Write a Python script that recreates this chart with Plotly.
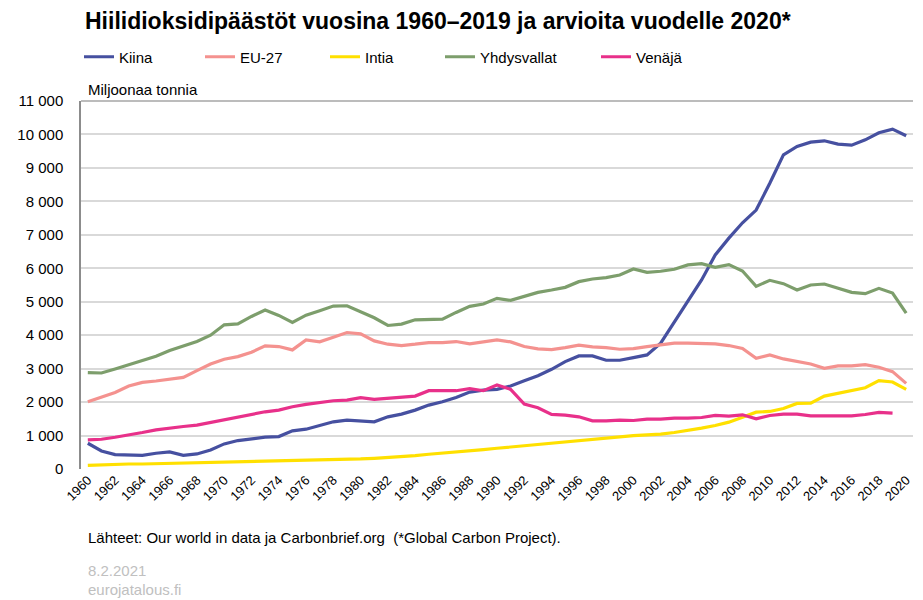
import plotly.graph_objects as go

years = list(range(1960, 2021))

kiina = [770, 540, 430, 410, 410, 470, 510, 410, 450, 570,
         750, 850, 900, 950, 970, 1140, 1190, 1300, 1410, 1460,
         1440, 1410, 1560, 1640, 1760, 1910, 2010, 2140, 2300, 2360,
         2380, 2480, 2640, 2790, 2980, 3210, 3380, 3380, 3250, 3250,
         3330, 3410, 3760, 4390, 5020, 5650, 6400, 6900, 7360, 7740,
         8540, 9390, 9640, 9770, 9810, 9710, 9680, 9840, 10050, 10160,
         9960]

eu27 = [2010, 2160, 2290, 2480, 2590, 2630, 2680, 2740, 2940, 3140,
        3280, 3360, 3490, 3680, 3660, 3560, 3860, 3800, 3940, 4080,
        4040, 3830, 3730, 3690, 3730, 3780, 3780, 3810, 3740, 3810,
        3860, 3800, 3660, 3590, 3570, 3630, 3700, 3650, 3630, 3580,
        3600, 3660, 3700, 3760, 3760, 3740, 3740, 3690, 3600, 3310,
        3410, 3290, 3220, 3140, 3010, 3080, 3080, 3120, 3040, 2910,
        2560]

intia = [110, 130, 140, 150, 150, 160, 165, 170, 180, 185,
         190, 200, 210, 220, 225, 240, 250, 260, 270, 290,
         300, 320, 340, 370, 400, 440, 470, 500, 540, 580,
         620, 660, 700, 730, 760, 810, 860, 900, 930, 960,
         1000, 1020, 1040, 1090, 1150, 1220, 1300, 1400, 1550, 1700,
         1720, 1810, 1960, 1970, 2180, 2270, 2350, 2430, 2640, 2600,
         2380]

yhdysvallat = [2880, 2870, 2990, 3110, 3230, 3370, 3540, 3670, 3810, 4000,
               4310, 4340, 4560, 4750, 4590, 4380, 4600, 4730, 4870, 4880,
               4700, 4520, 4290, 4330, 4460, 4470, 4480, 4680, 4860, 4930,
               5100, 5040, 5170, 5280, 5350, 5430, 5600, 5680, 5720, 5800,
               5980, 5880, 5910, 5970, 6100, 6140, 6030, 6110, 5920, 5460,
               5640, 5540, 5350, 5500, 5530, 5400, 5280, 5240, 5400, 5260,
               4660]

venaja = [870, 890, 950, 1010, 1090, 1170, 1230, 1270, 1310, 1390,
          1470, 1560, 1640, 1710, 1760, 1860, 1930, 1980, 2040, 2060,
          2130, 2080, 2110, 2160, 2180, 2340, 2340, 2340, 2400, 2340,
          2510, 2380, 1940, 1830, 1630, 1610, 1560, 1440, 1440, 1460,
          1450, 1490, 1490, 1520, 1520, 1540, 1600, 1580, 1620, 1500,
          1600, 1640, 1640, 1590, 1590, 1590, 1590, 1630, 1690, 1670,
          None]

series = [
    ("Kiina", kiina, "#4650a0"),
    ("EU-27", eu27, "#f4928f"),
    ("Intia", intia, "#ffe000"),
    ("Yhdysvallat", yhdysvallat, "#7d9e6c"),
    ("Venäjä", venaja, "#e8308a"),
]

# The page adds an 8 px body margin, so the figure is 8 px smaller and
# every page-pixel target below is shifted by OFF.
OFF = 8
W, H = 923 - OFF, 600 - OFF
FONT = "Liberation Sans, Arial, sans-serif"

# legend text start positions (page px) in the reference
legend_text_px = [120, 241, 366, 481, 637]

ML, MR = 81 - OFF, 10
MT = 101 - OFF
PLOT_BOTTOM = 469 - OFF
MB = H - PLOT_BOTTOM
PH = PLOT_BOTTOM - MT
PW = W - ML - MR

fig = go.Figure()
for i, (name, vals, col) in enumerate(series):
    lg = "legend" if i == 0 else f"legend{i+1}"
    fig.add_trace(go.Scatter(
        x=years, y=vals, name=name, mode="lines",
        line=dict(color=col, width=3.2),
        legend=lg, connectgaps=False,
    ))

layout_legends = {}
for i, tx in enumerate(legend_text_px):
    key = "legend" if i == 0 else f"legend{i+1}"
    layout_legends[key] = dict(
        orientation="h", yanchor="middle", xanchor="left",
        xref="container", yref="container",
        x=(tx - OFF - 41) / W, y=1 - (57 - OFF) / H,
        font=dict(family=FONT, size=15, color="#000"),
        bgcolor="rgba(0,0,0,0)", itemwidth=30,
    )

fig.update_layout(
    width=W, height=H,
    margin=dict(l=ML, r=MR, t=MT, b=MB, autoexpand=False),
    paper_bgcolor="white", plot_bgcolor="white",
    separators=", ",
    font=dict(family=FONT, size=15, color="#000"),
    title=dict(
        text="<b>Hiilidioksidipäästöt vuosina 1960–2019 ja arvioita vuodelle 2020*</b>",
        xref="container", yref="container",
        x=(87 - OFF - 2) / W, xanchor="left", y=1 - (21 - OFF) / H, yanchor="middle",
        font=dict(family=FONT, size=23, color="#000"),
    ),
    xaxis=dict(
        range=[1959.5, 2020.5], tickmode="linear", tick0=1960, dtick=2,
        tickangle=-45, showgrid=False, zeroline=False, showline=False,
        ticks="", tickfont=dict(family=FONT, size=13, color="#000"),
    ),
    yaxis=dict(
        range=[0, 11000], dtick=1000, tickformat=",d",
        showgrid=True, gridcolor="#d9d9d9", gridwidth=1.5,
        zeroline=False, showline=True, linecolor="#8c8c8c", linewidth=1.5,
        ticks="", ticklabelstandoff=13,
        tickfont=dict(family=FONT, size=15, color="#000"),
    ),
    showlegend=True,
    **layout_legends,
)

fig.add_shape(type="line", xref="paper", yref="paper", x0=0, x1=1, y0=1, y1=1,
              line=dict(color="#a6a6a6", width=1.5))


def py(ypix):
    return (PLOT_BOTTOM - (ypix - OFF)) / PH


def px(xpix):
    return ((xpix - OFF) - ML) / PW


fig.add_annotation(text="Miljoonaa tonnia", xref="paper", yref="paper",
                   x=px(86), y=py(90), xanchor="left", yanchor="middle",
                   showarrow=False, font=dict(family=FONT, size=15, color="#000"))
fig.add_annotation(text="Lähteet: Our world in data ja Carbonbrief.org  (*Global Carbon Project).",
                   xref="paper", yref="paper", x=px(86), y=py(537),
                   xanchor="left", yanchor="middle", showarrow=False,
                   font=dict(family=FONT, size=15, color="#000"))
fig.add_annotation(text="8.2.2021", xref="paper", yref="paper", x=px(86), y=py(570),
                   xanchor="left", yanchor="middle", showarrow=False,
                   font=dict(family=FONT, size=15, color="#c0c0c0"))
fig.add_annotation(text="eurojatalous.fi", xref="paper", yref="paper", x=px(86), y=py(589),
                   xanchor="left", yanchor="middle", showarrow=False,
                   font=dict(family=FONT, size=15, color="#c0c0c0"))

fig.write_html("out.html")
